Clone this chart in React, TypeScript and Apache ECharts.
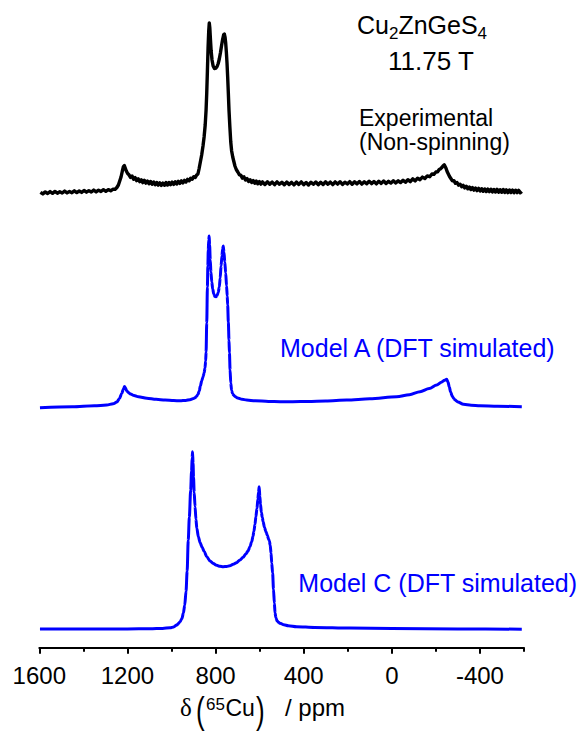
import React, { useEffect, useRef } from "react";
import * as echarts from "echarts";

// Chemical-shift axis (ppm), drawn high → low
const X_MIN = -600;
const X_MAX = 1600;
const MAJOR_TICKS = [1600, 1200, 800, 400, 0, -400];

// Static 65Cu NMR spectrum, [ppm, intensity]
const experimental: [number, number][] = [
  [1595, 0.6], [1584, -0.9], [1573, 1.1], [1562, -0.5], [1551, 1.4], [1540, -0.3], [1529, 1.6],
  [1518, -0.2], [1507, 1.2], [1496, 0.0], [1485, 1.9], [1474, 0.1], [1463, 1.5], [1452, 0.3],
  [1441, 2.2], [1430, 0.4], [1419, 2.0], [1408, 0.6], [1397, 2.5], [1386, 0.8], [1375, 2.4],
  [1364, 1.0], [1353, 2.9], [1342, 1.1], [1331, 2.8], [1320, 1.5], [1309, 3.3], [1298, 1.7],
  [1287, 3.4], [1276, 2.2], [1265, 3.9], [1256, 3.6], [1248, 5.5], [1241, 8], [1235, 12],
  [1229, 16], [1223, 22], [1218, 26.5], [1214, 27.5], [1210, 25], [1205, 22], [1199, 19.5],
  [1193, 18.2], [1186, 15.6], [1179, 17.0], [1172, 13.8], [1165, 15.4], [1158, 12.4],
  [1151, 14.2], [1144, 11.4], [1137, 13.3], [1130, 10.4], [1123, 12.7], [1116, 9.9],
  [1109, 12.0], [1102, 9.2], [1095, 11.5], [1088, 8.8], [1081, 11.0], [1074, 8.2], [1067, 10.5],
  [1060, 7.9], [1053, 10.2], [1046, 7.6], [1039, 9.9], [1032, 7.7], [1025, 10.4], [1018, 8.0],
  [1011, 10.5], [1004, 8.3], [997, 10.9], [990, 8.6], [983, 11.2], [976, 9.0], [969, 11.6],
  [962, 9.6], [955, 12.1], [948, 10.1], [941, 12.6], [934, 11.0], [927, 13.6], [920, 12.2],
  [913, 14.8], [906, 13.7], [899, 16.3], [892, 15.6], [886, 17.9], [880, 19], [875, 24],
  [869, 31], [863, 38], [857, 47], [852, 56], [847, 68], [843, 83], [840, 100], [837, 122],
  [834, 145], [831, 162], [828.5, 170], [826, 165], [823, 153], [820, 142], [816, 133],
  [811, 127], [805, 124.5], [799, 124.8], [793, 126.5], [788, 129.5], [783, 134], [778, 140],
  [773, 147], [768, 153.5], [763, 158.5], [760, 159], [757, 156], [754, 150], [751, 141],
  [748, 130], [745, 116], [742, 100], [739, 83], [735, 66], [731, 51], [727, 42], [722, 36],
  [717, 31.5], [712, 27], [706, 23.5], [699, 21], [692, 18.3], [685, 17.6], [678, 14.9],
  [671, 16.1], [664, 13.0], [657, 14.4], [650, 11.6], [643, 13.3], [636, 10.5], [629, 12.4],
  [622, 9.8], [615, 11.9], [608, 9.2], [601, 11.4], [594, 8.9], [587, 11.1], [576, 8.5],
  [565, 11.2], [554, 8.7], [543, 10.9], [532, 8.3], [521, 11.1], [510, 8.8], [499, 10.7],
  [488, 8.2], [477, 11.0], [466, 8.5], [455, 10.6], [444, 8.1], [433, 10.9], [422, 8.6],
  [411, 11.1], [400, 8.4], [389, 10.5], [378, 8.0], [367, 10.8], [356, 8.7], [345, 11.0],
  [334, 8.3], [323, 10.7], [312, 8.5], [301, 11.2], [290, 8.8], [279, 10.9], [268, 8.4],
  [257, 11.1], [246, 8.9], [235, 11.3], [224, 8.6], [213, 10.8], [202, 9.0], [191, 11.4],
  [180, 8.7], [169, 11.2], [158, 9.1], [147, 11.5], [136, 8.9], [125, 11.3], [114, 9.2],
  [103, 11.7], [92, 9.4], [81, 11.5], [70, 9.1], [59, 11.8], [48, 9.6], [37, 12.0], [26, 9.5],
  [15, 11.7], [4, 9.9], [-7, 12.3], [-18, 10.1], [-29, 12.2], [-40, 10.4], [-51, 12.7],
  [-62, 10.8], [-73, 13.3], [-84, 11.4], [-95, 14.1], [-106, 12.1], [-117, 14.8], [-128, 13.3],
  [-139, 15.9], [-150, 14.5], [-161, 17.1], [-172, 16.3], [-182, 19.0], [-191, 18.7],
  [-200, 21.0], [-208, 21.3], [-215, 23.5], [-222, 24.3], [-229, 26], [-234, 27.5], [-238, 28.2],
  [-242, 26.5], [-246, 24.8], [-251, 21.5], [-256, 19.2], [-262, 16.5], [-268, 14.5],
  [-275, 12.1], [-282, 12.4], [-289, 9.7], [-296, 10.5], [-303, 7.9], [-310, 8.8], [-317, 6.3],
  [-324, 7.7], [-331, 5.1], [-338, 6.8], [-345, 4.2], [-352, 6.0], [-359, 3.5], [-366, 5.5],
  [-373, 2.9], [-380, 4.9], [-387, 2.4], [-394, 4.6], [-401, 2.0], [-408, 4.3], [-415, 1.7],
  [-422, 4.0], [-429, 1.5], [-436, 3.9], [-443, 1.4], [-450, 3.8], [-457, 1.1], [-464, 3.5],
  [-471, 1.0], [-478, 3.6], [-485, 0.8], [-492, 3.3], [-499, 0.7], [-506, 3.4], [-513, 0.5],
  [-520, 3.1], [-527, 0.4], [-534, 3.0], [-541, 0.5], [-548, 2.9], [-555, 0.3], [-562, 2.8],
  [-569, 0.4], [-576, 2.7], [-583, 0.2], [-590, 1.6],
];

// DFT-simulated lineshape, Model A
const modelA: [number, number][] = [
  [1597, 0.3], [1450, 1.2], [1350, 2.2], [1294, 3.0], [1265, 4.2], [1248, 6.0], [1236, 9.5],
  [1226, 14.5], [1218, 19], [1213, 21.5], [1209, 20], [1204, 17.5], [1196, 15.5], [1186, 14.0],
  [1170, 12.6], [1150, 11.3], [1112, 9.8], [1070, 8.7], [1029, 8.0], [990, 7.4], [961, 7.2],
  [935, 7.6], [916, 8.3], [900, 9.4], [893, 10.3], [886, 11.6], [880, 13.5], [874, 17],
  [869, 22], [863, 27], [857, 31], [852, 35], [848, 40], [845, 47], [843, 56], [840, 85],
  [837, 121], [835, 142], [833, 158], [831, 168], [829, 172], [827, 163], [824, 148],
  [821, 136], [817, 126], [813, 119], [808, 114], [803, 111.5], [798, 111.3], [793, 112.5],
  [788, 115.5], [783, 121], [779, 130], [775, 142], [771, 152], [768, 159], [765, 162],
  [762, 156], [758, 146], [754, 135], [750, 122], [747, 112], [745, 103], [742, 86], [739, 68],
  [737, 55], [734, 38], [731, 25], [727, 17.5], [723, 14.5], [719, 13], [710, 11.2], [700, 10],
  [680, 8.8], [659, 8.0], [620, 7.2], [560, 6.6], [507, 6.3], [450, 6.3], [380, 6.6],
  [300, 7.1], [205, 8.0], [100, 9.2], [-22, 11.3], [-80, 13.3], [-128, 16.3], [-170, 19.5],
  [-204, 23], [-225, 25.8], [-240, 27.8], [-249, 28.7], [-255, 26], [-261, 21], [-267, 16],
  [-274, 12], [-281, 9.5], [-287, 8], [-300, 6.0], [-325, 3.7], [-360, 2.8], [-400, 2.3],
  [-480, 1.8], [-590, 1.3],
];

// DFT-simulated lineshape, Model C
const modelC: [number, number][] = [
  [1597, 0.3], [1400, 0.3], [1200, 0.4], [1097, 0.5], [1040, 0.9], [1006, 1.5], [990, 2.4],
  [976, 4.3], [968, 5.8], [961, 7.6], [953, 10.5], [946, 16.3], [940, 24], [934, 38], [929, 58],
  [924, 89], [919, 112], [913, 139], [909, 158], [906, 172], [904.5, 177.6], [902, 166],
  [900, 152], [897, 137], [893, 122.6], [889, 110], [885, 101], [878, 92.6], [870, 86.5],
  [861, 82], [851, 77.5], [840, 72.6], [825, 68.3], [810, 65.7], [795, 64], [780, 63.0],
  [765, 62.6], [750, 62.8], [735, 63.5], [720, 65], [705, 66.6], [689, 69.3], [675, 72],
  [662, 75.5], [652, 78.6], [644, 82.6], [636, 87.5], [630, 93], [626, 98], [621, 105],
  [617, 112.6], [612, 121], [608, 130], [605, 137], [602, 142.6], [599, 133], [596, 125],
  [592, 117], [588, 112], [584, 107.6], [578, 102], [571, 97.5], [565, 94], [559, 90],
  [556, 88.5], [552, 84], [548, 76], [545, 66], [541, 56.3], [537, 40], [533, 26], [530, 16.3],
  [526, 11.5], [521, 8.5], [514, 7], [507, 6.0], [490, 4.5], [470, 3.6], [432, 2.6], [350, 1.8],
  [190, 1.2], [0, 0.8], [-300, 0.4], [-590, 0.1],
];

const FONT_SANS = '"Liberation Sans", Arial, Helvetica, sans-serif';
const FONT_SERIF = '"Liberation Serif", "Times New Roman", serif';
const BLUE = "#0000ff";
// distance from the alphabetic baseline to the em-box centre, in em
const CENTRAL = 0.3465;

// vertical stacking of the three traces
const Y_TOP = 647.7;
const OFFSET_EXP = 454.7;
const OFFSET_A = 239.7;
const OFFSET_C = 18.4;

let measureCtx: CanvasRenderingContext2D | null = null;
function textWidth(text: string, size: number, family: string): number {
  if (!measureCtx) measureCtx = document.createElement("canvas").getContext("2d");
  if (!measureCtx) return text.length * size * 0.55;
  measureCtx.font = `${size}px ${family}`;
  return measureCtx.measureText(text).width;
}

type Seg = {
  text: string;
  size: number;
  family?: string;
  dy?: number;
  x?: number;
};

// lays text pieces along a shared baseline (sub/superscripts via dy)
function textRun(segs: Seg[], x0: number, baseline: number, fill: string) {
  let cursor = x0;
  return segs.map((s) => {
    const family = s.family ?? FONT_SANS;
    const x = s.x ?? cursor;
    cursor = x + textWidth(s.text, s.size, family);
    return {
      type: "text",
      x,
      y: baseline + (s.dy ?? 0) - CENTRAL * s.size,
      silent: true,
      style: {
        text: s.text,
        fill,
        fontSize: s.size,
        fontFamily: family,
        align: "left",
        verticalAlign: "middle",
      },
    };
  });
}

const shift = (pts: [number, number][], off: number) => pts.map(([x, y]) => [x, y + off]);

export default function App() {
  const ref = useRef<HTMLDivElement>(null);

  useEffect(() => {
    if (!ref.current) return;
    const chart = echarts.init(ref.current, null, { renderer: "svg" });

    // tall, thin brackets around the isotope label
    const bracket = (ch: string, x: number) => ({
      type: "text",
      x,
      y: 710,
      scaleY: 1.45,
      silent: true,
      style: {
        text: ch,
        fill: "#000",
        fontSize: 26,
        fontFamily: FONT_SANS,
        align: "left",
        verticalAlign: "middle",
      },
    });

    const graphic = [
      ...textRun(
        [
          { text: "Cu", size: 25 },
          { text: "2", size: 17, dy: 6 },
          { text: "ZnGeS", size: 25 },
          { text: "4", size: 17, dy: 6 },
        ],
        357, 33.3, "#000"
      ),
      ...textRun([{ text: "11.75 T", size: 26 }], 388, 70, "#000"),
      {
        type: "text",
        x: 359,
        y: 106.3,
        silent: true,
        style: {
          text: "Experimental\n(Non-spinning)",
          fill: "#000",
          fontSize: 23,
          fontFamily: FONT_SANS,
          lineHeight: 23.5,
          align: "left",
          verticalAlign: "top",
        },
      },
      ...textRun([{ text: "Model A (DFT simulated)", size: 25 }], 280, 356.3, BLUE),
      ...textRun([{ text: "Model C (DFT simulated)", size: 25 }], 298.3, 591.7, BLUE),
      ...textRun(
        [
          { text: "δ", size: 25, family: FONT_SERIF, x: 180 },
          { text: "65", size: 17, dy: -5.7, x: 206 },
          { text: "Cu", size: 23, x: 225.5 },
          { text: "/ ppm", size: 24, x: 285 },
        ],
        180, 715.7, "#000"
      ),
      bracket("(", 196),
      bracket(")", 256),
    ];

    const axisBase = {
      type: "value",
      gridIndex: 0,
      position: "bottom",
      inverse: true,
      min: X_MIN,
      max: X_MAX,
      splitLine: { show: false },
    };

    chart.setOption({
      animation: false,
      backgroundColor: "#fff",
      grid: { left: 39.3, right: 56, top: 0, bottom: 87.3, containLabel: false },
      xAxis: [
        {
          ...axisBase,
          interval: 200,
          axisLine: { show: true, onZero: false, lineStyle: { color: "#000", width: 2 } },
          axisTick: { show: true, inside: false, length: 4, lineStyle: { color: "#000", width: 2 } },
          axisLabel: {
            show: true,
            margin: 16,
            color: "#000",
            fontSize: 24,
            fontFamily: FONT_SANS,
            formatter: (v: number) => (MAJOR_TICKS.includes(v) ? String(v) : ""),
          },
        },
        {
          ...axisBase,
          axisLine: { show: false, onZero: false },
          axisTick: {
            show: true,
            inside: false,
            length: 6,
            customValues: MAJOR_TICKS,
            lineStyle: { color: "#000", width: 2 },
          },
          axisLabel: { show: false },
        },
      ],
      yAxis: { type: "value", min: 0, max: Y_TOP, show: false, splitLine: { show: false } },
      series: [
        {
          type: "line",
          name: "Experimental",
          data: shift(experimental, OFFSET_EXP),
          showSymbol: false,
          symbol: "none",
          lineStyle: { color: "#000", width: 3.4, join: "round" },
        },
        {
          type: "line",
          name: "Model A",
          data: shift(modelA, OFFSET_A),
          showSymbol: false,
          symbol: "none",
          smooth: 0.3,
          smoothMonotone: "x",
          lineStyle: { color: BLUE, width: 3, join: "round" },
        },
        {
          type: "line",
          name: "Model C",
          data: shift(modelC, OFFSET_C),
          showSymbol: false,
          symbol: "none",
          smooth: 0.3,
          smoothMonotone: "x",
          lineStyle: { color: BLUE, width: 3, join: "round" },
        },
      ],
      graphic,
    });

    return () => chart.dispose();
  }, []);

  return (
    <div
      ref={ref}
      style={{ position: "fixed", left: 0, top: 0, width: 580, height: 735, background: "#fff" }}
    />
  );
}
